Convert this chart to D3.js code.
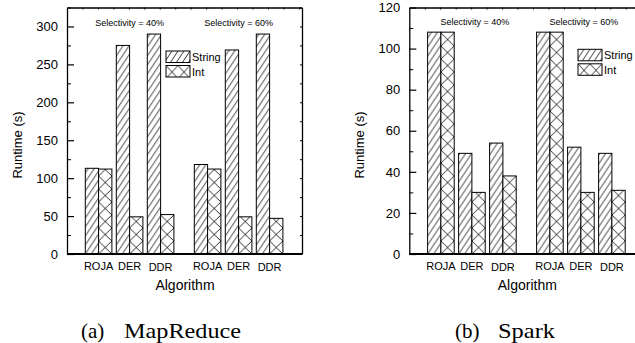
<!DOCTYPE html>
<html><head><meta charset="utf-8">
<script src="https://cdn.jsdelivr.net/npm/d3@7"></script>
<style>
html,body{margin:0;padding:0;background:#fff;}
svg{display:block;font-family:"Liberation Sans",Arial,sans-serif;}
</style></head>
<body>
<svg id="c" width="635" height="343"></svg>
<script>
// ---- data ----
const groups = ["Selectivity = 40%", "Selectivity = 60%"];
const algorithms = ["ROJA", "DER", "DDR"];
const series = ["String", "Int"];
const mrString = [113, 275, 290, 118, 269, 290];
const mrInt = [112, 49, 52, 112, 49, 47];
const sparkString = [108, 49, 54, 108, 52, 49];
const sparkInt = [108, 30, 38, 108, 30, 31];
const mrTicks = [0, 50, 100, 150, 200, 250, 300];
const sparkTicks = [0, 20, 40, 60, 80, 100, 120];
const captionTags = ["(a)", "(b)"];
const captionNames = ["MapReduce", "Spark"];
const xTitle = "Algorithm";
const yTitle = "Runtime (s)";

const svg = d3.select("#c");
const defs = svg.append("defs");
let pid = 0;

function hatchPattern(x, y, kind, w) {
  const id = "p" + (pid++);
  if (kind === "String") {
    const pw = 6, ph = 9;
    const p = defs.append("pattern").attr("id", id).attr("patternUnits", "userSpaceOnUse")
      .attr("x", x).attr("y", y).attr("width", pw).attr("height", ph);
    p.append("rect").attr("width", pw).attr("height", ph).attr("fill", "#fff");
    p.append("path").attr("d", `M0,${ph} L${pw},0 M-1,${ph/pw} L1,${-ph/pw} M${pw-1},${ph+ph/pw} L${pw+1},${ph-ph/pw}`)
      .attr("stroke", "#000").attr("stroke-width", 0.8).attr("fill", "none");
  } else {
    const pw = w, ph = 13;
    const p = defs.append("pattern").attr("id", id).attr("patternUnits", "userSpaceOnUse")
      .attr("x", x).attr("y", y).attr("width", pw).attr("height", ph);
    p.append("rect").attr("width", pw).attr("height", ph).attr("fill", "#fff");
    p.append("path").attr("d", `M0,0 L${pw},${ph} M0,${ph} L${pw},0`)
      .attr("stroke", "#000").attr("stroke-width", 0.8).attr("fill", "none");
  }
  return `url(#${id})`;
}

function drawChart(o) {
  const g = svg.append("g");
  const y = d3.scaleLinear().domain(o.yDomain).range([254, 7.5]);
  const x0 = d3.scaleBand().domain(groups).range([o.left + 8.1, o.left + 8.1 + 218]);
  const xa = d3.scaleBand().domain(algorithms).range([0, x0.bandwidth()])
    .paddingInner(0.142).paddingOuter(0.329);
  const xs = d3.scaleBand().domain(series).range([0, xa.bandwidth()]);
  const xTop = d3.scaleLinear().domain([-1, 6.6]).range([o.left, o.left + 235]);
  const right = o.left + 235;

  // bars
  const data = [];
  groups.forEach((gr, gi) => algorithms.forEach((a, ai) => {
    const k = gi * 3 + ai;
    data.push({gr, a, s: "String", v: o.str[k]});
    data.push({gr, a, s: "Int", v: o.int[k]});
  }));
  g.selectAll("rect.bar").data(data).join("rect").attr("class", "bar")
    .attr("x", d => x0(d.gr) + xa(d.a) + xs(d.s))
    .attr("y", d => y(d.v))
    .attr("width", xs.bandwidth())
    .attr("height", d => y(0) - y(d.v))
    .attr("fill", d => hatchPattern(x0(d.gr) + xa(d.a) + xs(d.s), y(0), d.s, xs.bandwidth()))
    .attr("stroke", "#000").attr("stroke-width", 1);

  // left axis
  const yAxis = d3.axisLeft(y).tickValues(o.ticks).tickSizeInner(-7).tickSizeOuter(0).tickPadding(9);
  const ga = g.append("g").attr("transform", `translate(${o.left},0)`).call(yAxis);
  ga.select(".domain").attr("stroke-width", 1.3);
  ga.selectAll(".tick line").attr("stroke-width", 1.2);
  ga.selectAll(".tick text").attr("font-size", 13).attr("font-family", "Liberation Sans, Arial, sans-serif").attr("fill", "#000");
  // minor ticks
  const minorL = d3.axisLeft(y).tickValues(o.minor).tickSize(-4).tickFormat("");
  const gm = g.append("g").attr("transform", `translate(${o.left},0)`).call(minorL);
  gm.select(".domain").remove();
  // right frame
  const rAxis = d3.axisRight(y).tickValues(o.ticks.concat(o.minor)).tickSize(-2).tickFormat("").tickSizeOuter(0);
  const gr = g.append("g").attr("transform", `translate(${right},0)`).call(rAxis);
  gr.select(".domain").attr("stroke-width", 1.3);
  // top frame
  const tAxis = d3.axisTop(xTop).tickValues(d3.range(-0.5, 6.6, 0.5)).tickSize(-2).tickFormat("").tickSizeOuter(0);
  const gt = g.append("g").attr("transform", `translate(0,${y.range()[1]})`).call(tAxis);
  gt.select(".domain").attr("stroke-width", 1.3);
  // bottom axis
  g.append("line").attr("x1", o.left).attr("x2", right).attr("y1", y(0)).attr("y2", y(0))
    .attr("stroke", "#000").attr("stroke-width", 2);

  // category labels
  g.selectAll("text.cat").data(groups.flatMap(gr => algorithms.map(a => ({gr, a})))).join("text")
    .attr("class", "cat")
    .attr("x", d => x0(d.gr) + xa(d.a) + xa.bandwidth() / 2)
    .attr("y", (d) => d.a === "DDR" ? 271 : 270)
    .attr("text-anchor", "middle").attr("font-size", 11).text(d => d.a);

  // group annotations
  g.selectAll("text.grp").data(groups).join("text").attr("class", "grp")
    .attr("x", d => x0(d) + x0.bandwidth() / 2 + o.annDx)
    .attr("y", o.annY).attr("text-anchor", "middle").attr("font-size", 9).text(d => d);

  // titles
  g.append("text").attr("x", o.left + 118).attr("y", 290).attr("text-anchor", "middle")
    .attr("font-size", 14).text(xTitle);
  g.append("text").attr("transform", `translate(${o.left - 45},${o.yTitleY}) rotate(-90)`)
    .attr("text-anchor", "middle").attr("font-size", 13).text(yTitle);

  // legend
  series.forEach((s, i) => {
    const ly = o.legY + i * 14.5;
    g.append("rect").attr("x", o.legX).attr("y", ly).attr("width", 24).attr("height", 11.5)
      .attr("fill", hatchPattern(o.legX, ly, s, 12)).attr("stroke", "#000").attr("stroke-width", 1);
    g.append("text").attr("x", o.legX + 26).attr("y", ly + 10).attr("font-size", 11).text(s);
  });

  // caption
  g.append("text").attr("x", o.capX).attr("y", 338).attr("font-family", "Liberation Serif, serif")
    .attr("font-size", 21).text(o.capTag);
  g.append("text").attr("x", o.capX + 43).attr("y", 338).attr("font-family", "Liberation Serif, serif")
    .attr("font-size", 21).attr("textLength", o.capLen).attr("lengthAdjust", "spacingAndGlyphs").text(o.capName);
}

drawChart({left: 67, yDomain: [0, 325], ticks: mrTicks, minor: [25, 75, 125, 175, 225, 275, 325],
  str: mrString, int: mrInt, annDx: 0, annY: 26, legX: 166, legY: 51, yTitleY: 145,
  capX: 81, capLen: 117, capTag: captionTags[0], capName: captionNames[0]});
drawChart({left: 409.3, yDomain: [0, 120], ticks: sparkTicks, minor: [10, 30, 50, 70, 90, 110],
  str: sparkString, int: sparkInt, annDx: 3, annY: 25, legX: 578, legY: 49.3, yTitleY: 145,
  capX: 455, capLen: 57, capTag: captionTags[1], capName: captionNames[1]});
</script>
</body></html>
